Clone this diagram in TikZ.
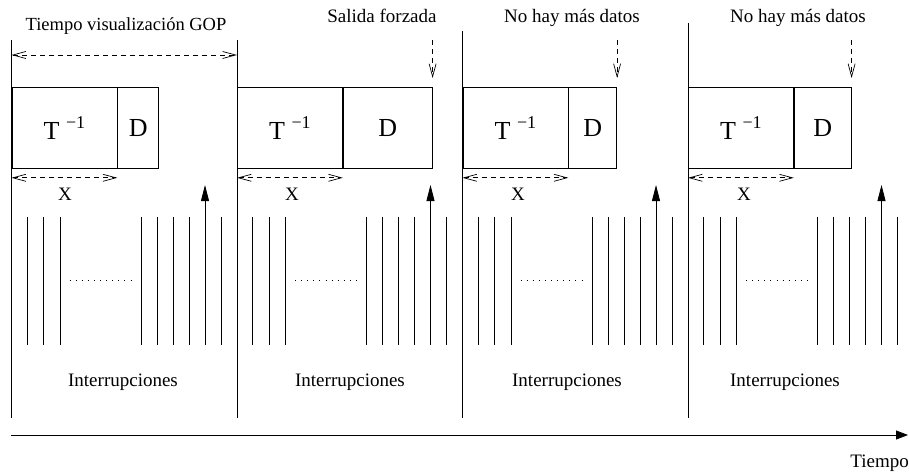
\documentclass[tikz,border=0pt]{standalone}
\usepackage{fontspec}
\setmainfont{Liberation Serif}
\usetikzlibrary{arrows.meta}

\tikzset{
  frame/.style={line width=0.8pt},
  cell/.style={draw, line width=0.8pt, minimum height=81pt, inner sep=0pt,
               anchor=north west, text depth=0pt, font=\fontsize{26}{26}\selectfont},
  lab/.style={inner sep=0pt, font=\fontsize{19}{19}\selectfont},
  dasharrow/.style={line width=0.7pt, dash pattern=on 5pt off 4pt},
  barbs/.style={dasharrow, {Straight Barb[length=13pt,width=7pt]}-{Straight Barb[length=13pt,width=7pt]}},
  barbdown/.style={dasharrow, -{Straight Barb[length=13pt,width=7pt]}},
  pulse/.style={line width=0.8pt},
  dots/.style={line width=0.8pt, dash pattern=on 0.8pt off 5.3pt},
}

\begin{document}
\begin{tikzpicture}[x=1pt,y=-1pt]
\useasboundingbox (0,0) rectangle (909,473);

% one block per GOP: display window, inverse transform and output cells, interrupts
\foreach \i/\s/\dw/\top/\xx/\ix in {1/11.5/41/40/65/123, 2/237/89/40/292/350,
                                    3/462.5/48/31/518/567, 4/688/57/23/744/785}{
  \coordinate (top\i) at (\s,\top);
  \coordinate (bot\i) at (\s,418);
  \draw[frame] (top\i) -- (bot\i);

  \node[cell, minimum width=105pt] (t\i) at (\s,87) {T \raisebox{0.42em}{\fontsize{18}{18}\selectfont −1}};
  \node[cell, minimum width=\dw pt] (d\i) at (t\i.north east) {D};

  \draw[barbs] ([yshift=-9pt]t\i.south west) -- ([yshift=-9pt]t\i.south east);
  \node[lab, anchor=base] (x\i) at (\xx,200) {X};

  \foreach \o in {15.5,32,48.5,129.5,145.5,161.5,177.5,209.5}
    \draw[pulse] ({\s+\o},217) -- ({\s+\o},345);
  \coordinate (irqfoot\i) at ({\s+193.5},345);
  \coordinate (irqtip\i) at ({\s+193.5},185);
  \draw[pulse, -{Triangle[length=16pt,width=8pt]}] (irqfoot\i) -- (irqtip\i);

  \coordinate (dotsa\i) at ({\s+58},280);
  \coordinate (dotsb\i) at ({\s+120},280);
  \draw[dots] (dotsa\i) -- (dotsb\i);

  \node[lab, anchor=base] (irq\i) at (\ix,386) {Interrupciones};
}

% event labels above the blocks
\node[lab, anchor=base, font=\fontsize{18.5}{18.5}\selectfont] (gop) at (126,31) {Tiempo visualización GOP};
\node[lab, anchor=base] (forced) at (382,23) {Salida forzada};
\node[lab, anchor=base] (nodata3) at (572,23) {No hay más datos};
\node[lab, anchor=base] (nodata4) at (798,23) {No hay más datos};

% GOP display span
\coordinate (gopa) at (11.5,55);
\coordinate (gopb) at (237,55);
\draw[barbs] (gopa) -- (gopb);

% end-of-output triggers
\foreach \i in {2,3,4}
  \draw[barbdown] ([yshift=47pt]d\i.north east) -- ([yshift=9pt]d\i.north east);

% time axis
\coordinate (axa) at (11,435);
\coordinate (axb) at (908,435);
\draw[line width=0.8pt, -{Triangle[length=12pt,width=9pt]}] (axa) -- (axb);
\node[lab, anchor=base east] (time) at (909,467) {Tiempo};
\end{tikzpicture}
\end{document}
